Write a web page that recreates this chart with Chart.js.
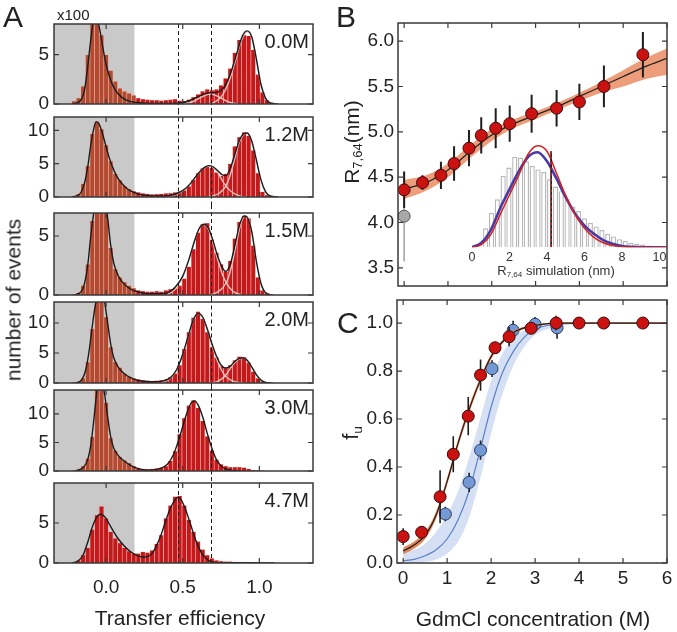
<!DOCTYPE html>
<html>
<head>
<meta charset="utf-8">
<script src="https://cdn.jsdelivr.net/npm/chart.js@4.4.1/dist/chart.umd.min.js"></script>
<style>
  body { margin: 0; width: 677px; height: 632px; overflow: hidden; position: relative; background: #fff;
         font-family: "Liberation Sans", Arial, sans-serif; color: #222; }
  canvas { position: absolute; z-index: 0; }
  .t { position: absolute; white-space: nowrap; line-height: 1; z-index: 2; }
  .ctr { transform: translate(-50%, -50%); }
  .rot { transform: translate(-50%, -50%) rotate(-90deg); }
  sub { font-size: 0.62em; vertical-align: -0.28em; line-height: 0; }
</style>
</head>
<body>
<div class="t" style="left:3px;top:2px;font-size:30px">A</div>
<div class="t" style="left:336px;top:2px;font-size:30px">B</div>
<div class="t" style="left:337px;top:308px;font-size:30px">C</div>
<div class="t" style="left:57px;top:7px;font-size:15px">x100</div>
<div class="t rot" style="left:13px;top:300px;font-size:21px">number of events</div>
<div class="t ctr" style="left:180px;top:617px;font-size:21px">Transfer efficiency</div>
<div class="t ctr" style="left:533px;top:618px;font-size:21px">GdmCl concentration (M)</div>
<div class="t rot" style="left:351px;top:142px;font-size:21px">R<sub>7,64</sub>(nm)</div>
<div class="t rot" style="left:351px;top:433px;font-size:22px">f<sub>u</sub></div>
<div class="t ctr" style="left:556px;top:270px;font-size:13px;color:#333">R<sub>7,64</sub> simulation (nm)</div>

<script>
// ---------- Panel A: transfer efficiency histograms (events x100) ----------
const concLabels = ['0.0M', '1.2M', '1.5M', '2.0M', '3.0M', '4.7M'];
const effTicks = [0, 0.5, 1.0];
const countTicks = [[0, 5], [0, 5, 10], [0, 5], [0, 5, 10], [0, 5, 10], [0, 5]];
const countMax = [8.1, 12.0, 6.95, 13.5, 14.2, 10.0];
const donorCut = 0.185;            // grey area = donor-only peak
const guideLines = [0.467, 0.685]; // dashed reference efficiencies

const binCenters = [-0.21, -0.18, -0.15, -0.12, -0.09, -0.06, -0.03, 0, 0.03, 0.06, 0.09, 0.12, 0.15, 0.18, 0.21,
  0.24, 0.27, 0.3, 0.33, 0.36, 0.39, 0.42, 0.45, 0.48, 0.51, 0.54, 0.57, 0.6, 0.63, 0.66, 0.69, 0.72, 0.75, 0.78,
  0.81, 0.84, 0.87, 0.9, 0.93, 0.96, 0.99, 1.02, 1.05, 1.08, 1.11];

const hist00 = [0.3, 0.6, 1.8, 5.0, 8.4, 8.4, 7.0, 5.0, 3.4, 2.3, 1.6, 1.3, 1.1, 0.9, 0.6, 0.5, 0.45, 0.4, 0.4, 0.35,
  0.4, 0.45, 0.5, 0.35, 0.3, 0.45, 0.7, 1.0, 1.3, 1.5, 1.4, 1.5, 1.9, 2.6, 3.6, 5.2, 6.5, 7.0, 6.9, 5.5, 3.0, 1.2, 0.4, 0.15, 0];
const hist12 = [0.1, 0.5, 2.0, 4.7, 9.5, 11.3, 10.2, 7.8, 5.4, 3.5, 2.5, 1.7, 1.2, 0.9, 0.7, 0.55, 0.5, 0.4, 0.45, 0.5,
  0.55, 0.6, 0.7, 0.8, 1.0, 1.6, 2.6, 3.6, 4.3, 4.6, 4.4, 3.7, 3.2, 3.5, 5.0, 7.6, 9.0, 9.7, 9.2, 7.0, 3.6, 0.8, 0.3, 0.1, 0];
const hist15 = [0.1, 0.2, 0.8, 2.6, 6.3, 7.5, 7.5, 7.2, 4.0, 2.2, 1.5, 1.1, 0.8, 0.6, 0.4, 0.35, 0.3, 0.3, 0.35, 0.3,
  0.4, 0.5, 0.6, 0.8, 1.4, 2.4, 3.9, 5.3, 6.0, 6.1, 4.7, 3.6, 2.6, 2.0, 2.9, 4.8, 6.2, 6.7, 6.5, 4.2, 1.5, 0.4, 0.2, 0.05, 0];
const hist20 = [0.1, 0.2, 0.8, 3.5, 9.0, 14, 14, 11.0, 6.0, 3.5, 2.6, 1.6, 1.1, 0.8, 0.6, 0.45, 0.4, 0.35, 0.4, 0.5,
  0.6, 1.0, 1.6, 3.0, 5.7, 8.5, 10.9, 11.9, 10.7, 8.5, 6.0, 4.3, 2.8, 2.5, 3.0, 3.8, 4.4, 4.3, 3.4, 1.9, 0.8, 0.3, 0.1, 0.05, 0];
const hist30 = [0.1, 0.3, 0.9, 2.2, 6.0, 15, 15, 12.0, 5.8, 3.6, 2.5, 1.9, 1.4, 0.9, 0.5, 0.4, 0.35, 0.4, 0.5, 0.6,
  0.9, 1.8, 3.5, 6.5, 9.3, 11.5, 12.4, 11.1, 8.8, 6.1, 3.6, 2.0, 1.2, 0.9, 0.7, 0.7, 0.7, 0.6, 0.4, 0.2, 0.1, 0.05, 0, 0, 0];
const hist47 = [0.1, 0.3, 1.0, 1.9, 4.2, 6.0, 7.1, 5.6, 3.9, 3.1, 2.5, 1.9, 1.5, 1.2, 1.2, 1.4, 1.3, 1.6, 2.4, 3.5,
  5.6, 7.2, 8.3, 8.4, 7.2, 5.4, 3.9, 2.7, 1.7, 1.0, 0.6, 0.35, 0.25, 0.2, 0.2, 0.15, 0.15, 0.1, 0.1, 0.05, 0.05, 0, 0, 0, 0];

// fitted curves, [efficiency, events]
const fit00 = [[-0.22, 0], [-0.17, 0.3], [-0.14, 1.5], [-0.12, 3.8], [-0.1, 6.5], [-0.08, 8.5], [-0.06, 8.6], [-0.04, 7.4],
  [-0.02, 5.6], [0, 4.0], [0.03, 2.4], [0.06, 1.4], [0.1, 0.7], [0.15, 0.3], [0.2, 0.15], [0.3, 0.05], [0.4, 0.05],
  [0.5, 0.15], [0.55, 0.4], [0.6, 0.75], [0.65, 1.05], [0.69, 1.15], [0.73, 1.2], [0.77, 1.7], [0.81, 3.0], [0.85, 5.0],
  [0.89, 6.9], [0.92, 7.4], [0.95, 6.8], [0.98, 4.6], [1.01, 2.0], [1.04, 0.6], [1.07, 0.1], [1.12, 0]];
const gaussA00 = [[0.5, 0], [0.56, 0.2], [0.61, 0.6], [0.65, 0.9], [0.68, 1.0], [0.71, 0.9], [0.75, 0.6], [0.8, 0.2], [0.86, 0]];
const gaussB00 = [[0.68, 0], [0.72, 0.3], [0.76, 0.9], [0.8, 2.2], [0.84, 4.2], [0.88, 6.3], [0.92, 7.3], [0.95, 6.8],
  [0.98, 4.6], [1.01, 2.0], [1.04, 0.6], [1.07, 0.1], [1.1, 0]];

const fit12 = [[-0.22, 0], [-0.17, 0.5], [-0.14, 2.2], [-0.12, 4.5], [-0.1, 7.8], [-0.08, 10.3], [-0.065, 11.3], [-0.05, 11.1],
  [-0.03, 10.0], [-0.01, 8.4], [0.01, 6.7], [0.04, 4.6], [0.07, 3.1], [0.1, 2.1], [0.14, 1.2], [0.18, 0.7], [0.22, 0.4],
  [0.28, 0.2], [0.35, 0.15], [0.42, 0.25], [0.47, 0.6], [0.52, 1.3], [0.56, 2.3], [0.6, 3.5], [0.64, 4.4], [0.67, 4.7],
  [0.7, 4.5], [0.73, 3.9], [0.76, 3.3], [0.78, 3.2], [0.81, 4.3], [0.84, 6.4], [0.87, 8.5], [0.9, 9.5], [0.92, 9.6],
  [0.95, 8.4], [0.98, 5.6], [1.01, 2.6], [1.04, 0.8], [1.07, 0.15], [1.12, 0]];
const gaussA12 = [[0.4, 0], [0.47, 0.5], [0.52, 1.3], [0.56, 2.3], [0.6, 3.5], [0.64, 4.4], [0.67, 4.6], [0.7, 4.4],
  [0.73, 3.6], [0.76, 2.4], [0.79, 1.4], [0.83, 0.6], [0.88, 0.1], [0.92, 0]];
const gaussB12 = [[0.66, 0], [0.7, 0.2], [0.74, 0.6], [0.78, 1.6], [0.81, 3.3], [0.84, 5.8], [0.87, 8.3], [0.9, 9.4],
  [0.92, 9.6], [0.95, 8.4], [0.98, 5.6], [1.01, 2.6], [1.04, 0.8], [1.07, 0.15], [1.12, 0]];

const fit15 = [[-0.2, 0], [-0.15, 0.6], [-0.12, 2.5], [-0.1, 5.0], [-0.08, 7.0], [-0.06, 8.2], [-0.035, 8.5], [-0.01, 8.0],
  [0.01, 6.5], [0.03, 4.2], [0.05, 2.7], [0.08, 1.6], [0.12, 0.9], [0.16, 0.5], [0.2, 0.3], [0.28, 0.1], [0.36, 0.1],
  [0.42, 0.3], [0.46, 0.8], [0.5, 1.6], [0.54, 3.0], [0.58, 4.7], [0.61, 5.7], [0.64, 6.0], [0.67, 5.6], [0.7, 4.5],
  [0.73, 3.2], [0.76, 2.3], [0.78, 2.0], [0.81, 2.6], [0.84, 4.2], [0.87, 5.9], [0.9, 6.7], [0.92, 6.6], [0.95, 5.4],
  [0.98, 2.9], [1.01, 1.0], [1.04, 0.2], [1.08, 0]];
const gaussA15 = [[0.4, 0], [0.46, 0.6], [0.5, 1.5], [0.54, 3.0], [0.58, 4.7], [0.61, 5.7], [0.64, 6.0], [0.67, 5.5],
  [0.7, 4.3], [0.73, 2.9], [0.76, 1.7], [0.79, 0.9], [0.83, 0.3], [0.88, 0]];
const gaussB15 = [[0.68, 0], [0.72, 0.2], [0.76, 0.6], [0.79, 1.2], [0.82, 2.5], [0.85, 4.4], [0.88, 6.1], [0.905, 6.7],
  [0.925, 6.6], [0.95, 5.4], [0.98, 2.9], [1.01, 1.0], [1.04, 0.2], [1.08, 0]];

const fit20 = [[-0.2, 0], [-0.16, 0.5], [-0.13, 2.5], [-0.11, 5.5], [-0.09, 9.5], [-0.07, 13.0], [-0.05, 15], [-0.03, 15.2],
  [-0.01, 13.5], [0.01, 10.0], [0.03, 6.5], [0.05, 4.2], [0.08, 2.6], [0.12, 1.5], [0.16, 0.9], [0.2, 0.5], [0.26, 0.25],
  [0.32, 0.2], [0.38, 0.4], [0.42, 0.9], [0.46, 2.2], [0.5, 4.8], [0.54, 8.2], [0.57, 10.6], [0.6, 11.6], [0.63, 11.0],
  [0.66, 9.0], [0.69, 6.6], [0.72, 4.5], [0.75, 3.0], [0.78, 2.5], [0.81, 2.8], [0.84, 3.6], [0.87, 4.1], [0.895, 4.2],
  [0.92, 3.8], [0.95, 2.7], [0.98, 1.4], [1.01, 0.5], [1.04, 0.1], [1.08, 0]];
const gaussA20 = [[0.36, 0], [0.42, 0.8], [0.46, 2.2], [0.5, 4.8], [0.54, 8.2], [0.57, 10.6], [0.6, 11.6], [0.63, 11.0],
  [0.66, 9.0], [0.69, 6.4], [0.72, 4.1], [0.75, 2.3], [0.78, 1.1], [0.82, 0.4], [0.86, 0.1], [0.9, 0]];
const gaussB20 = [[0.68, 0], [0.72, 0.2], [0.75, 0.6], [0.78, 1.3], [0.81, 2.4], [0.84, 3.4], [0.87, 4.0], [0.895, 4.2],
  [0.92, 3.8], [0.95, 2.7], [0.98, 1.4], [1.01, 0.5], [1.04, 0.1], [1.08, 0]];

const fit30 = [[-0.2, 0], [-0.15, 0.6], [-0.12, 2.0], [-0.1, 4.5], [-0.08, 9.0], [-0.06, 14], [-0.045, 16], [-0.03, 16],
  [-0.01, 13.5], [0.01, 9.5], [0.03, 6.0], [0.05, 4.0], [0.08, 2.7], [0.12, 1.7], [0.16, 1.0], [0.2, 0.5], [0.25, 0.2],
  [0.3, 0.15], [0.35, 0.4], [0.4, 1.2], [0.44, 2.9], [0.48, 6.0], [0.52, 9.6], [0.55, 11.7], [0.575, 12.3], [0.6, 11.6],
  [0.63, 9.5], [0.66, 6.6], [0.69, 4.0], [0.72, 2.0], [0.75, 0.9], [0.78, 0.35], [0.82, 0.1], [0.88, 0]];

const fit47 = [[-0.22, 0], [-0.18, 0.3], [-0.15, 1.0], [-0.12, 2.6], [-0.09, 4.5], [-0.06, 5.8], [-0.037, 6.1], [-0.01, 5.8],
  [0.02, 4.9], [0.05, 3.9], [0.08, 3.0], [0.12, 2.1], [0.16, 1.4], [0.2, 0.95], [0.24, 0.75], [0.27, 0.8], [0.3, 1.2],
  [0.33, 2.2], [0.36, 3.6], [0.39, 5.3], [0.42, 6.9], [0.45, 7.9], [0.467, 8.2], [0.49, 7.9], [0.52, 6.6], [0.55, 4.9],
  [0.58, 3.1], [0.61, 1.7], [0.64, 0.8], [0.67, 0.3], [0.7, 0.1], [0.75, 0.02], [0.9, 0.05], [1.0, 0.02], [1.1, 0]];

// ---------- Panel B: R7,64 vs GdmCl ----------
const gdmcl = [0, 0.42, 0.84, 1.14, 1.48, 1.76, 2.09, 2.41, 2.91, 3.48, 4.0, 4.56, 5.45];
const rMeas = [4.36, 4.44, 4.52, 4.65, 4.82, 4.96, 5.04, 5.09, 5.2, 5.26, 5.33, 5.5, 5.85];
const rErr = [0.2, 0.08, 0.15, 0.19, 0.2, 0.2, 0.22, 0.2, 0.21, 0.2, 0.2, 0.23, 0.25];
const nativeX = [0];
const nativeR = [4.07];
const nativeErr = [0.5];
const fitX = [0, 0.5, 1, 1.5, 2, 2.5, 3, 3.5, 4, 4.5, 5, 5.5, 6];
const rFit = [4.37, 4.44, 4.58, 4.78, 4.965, 5.09, 5.185, 5.28, 5.39, 5.5, 5.61, 5.72, 5.81];
const rFitHi = [4.47, 4.52, 4.65, 4.85, 5.03, 5.14, 5.225, 5.32, 5.43, 5.55, 5.68, 5.81, 5.92];
const rFitLo = [4.26, 4.35, 4.5, 4.71, 4.9, 5.04, 5.14, 5.24, 5.34, 5.43, 5.5, 5.58, 5.63];
const gdmTicks = [0, 1, 2, 3, 4, 5, 6];
const rTicks = [3.5, 4.0, 4.5, 5.0, 5.5, 6.0];

// inset: simulated R7,64 distribution
const simBins = [0.73, 1.04, 1.35, 1.66, 1.97, 2.28, 2.59, 2.9, 3.21, 3.52, 3.83, 4.14, 4.45, 4.76, 5.07, 5.38, 5.69,
  6.0, 6.31, 6.62, 6.93, 7.24, 7.55, 7.86, 8.17, 8.48, 8.79, 9.1, 9.41, 9.72];
const simCounts = [0.21, 0.38, 0.53, 0.79, 0.88, 1.0, 0.99, 0.95, 0.9, 0.86, 0.83, 0.75, 0.67, 0.62, 0.53, 0.45, 0.40,
  0.32, 0.27, 0.23, 0.19, 0.15, 0.12, 0.09, 0.07, 0.05, 0.04, 0.03, 0.02, 0.01];
const simGridX = [0, 0.5, 1, 1.5, 2, 2.5, 3, 3.5, 4, 4.5, 5, 5.5, 6, 6.5, 7, 7.5, 8, 8.5, 9, 9.5, 10, 10.4];
const simRed = [0, 0.03, 0.14, 0.36, 0.58, 0.8, 1.03, 1.12, 1.06, 0.82, 0.57, 0.36, 0.21, 0.11, 0.05, 0.02, 0.005, 0, 0, 0, 0, 0];
const simBlue = [0, 0.05, 0.19, 0.43, 0.64, 0.84, 1.0, 1.05, 0.95, 0.76, 0.55, 0.37, 0.24, 0.15, 0.08, 0.04, 0.015, 0.005, 0, 0, 0, 0];
const simMean = 4.22;
const simMeanTop = 1.06;
const simTicks = [0, 2, 4, 6, 8, 10];

// ---------- Panel C: fraction unfolded ----------
const fuRed = [0.11, 0.128, 0.276, 0.453, 0.612, 0.783, 0.897, 0.943, 0.978, 1.0, 1.0, 1.0, 1.0];
const fuRedErr = [0.035, 0.025, 0.11, 0.075, 0.08, 0.065, 0.02, 0.04, 0.02, 0.03, 0.01, 0.01, 0.01];
const gdmclBlue = [0.96, 1.5, 1.76, 2.02, 2.5, 3.0, 3.5];
const fuBlue = [0.204, 0.336, 0.47, 0.81, 0.97, 0.995, 0.98];
const fuBlueErr = [0.03, 0.04, 0.04, 0.035, 0.04, 0.03, 0.045];
const fuFitX = [0, 0.25, 0.5, 0.75, 1, 1.25, 1.5, 1.75, 2, 2.25, 2.5, 2.75, 3, 3.5, 4, 5, 6];
const fuRedFit = [0.05, 0.075, 0.115, 0.2, 0.34, 0.5, 0.64, 0.76, 0.86, 0.92, 0.96, 0.98, 0.99, 1, 1, 1, 1];
const fuRedHi = [0.065, 0.09, 0.13, 0.215, 0.355, 0.515, 0.655, 0.772, 0.87, 0.928, 0.966, 0.985, 0.994, 1.003, 1.003, 1.003, 1.003];
const fuRedLo = [0.035, 0.06, 0.1, 0.185, 0.325, 0.485, 0.625, 0.748, 0.85, 0.912, 0.954, 0.975, 0.986, 0.997, 0.997, 0.997, 0.997];
const fuBlueFit = [0.01, 0.015, 0.03, 0.055, 0.1, 0.18, 0.3, 0.47, 0.65, 0.79, 0.88, 0.94, 0.975, 0.995, 1, 1, 1];
const fuBlueHi = [0.045, 0.055, 0.08, 0.13, 0.2, 0.3, 0.44, 0.6, 0.76, 0.87, 0.935, 0.97, 0.99, 1, 1, 1, 1];
const fuBlueLo = [0, 0, 0.005, 0.015, 0.04, 0.09, 0.19, 0.35, 0.54, 0.7, 0.82, 0.9, 0.95, 0.985, 0.995, 1, 1];
const fuTicks = [0, 0.2, 0.4, 0.6, 0.8, 1.0];

// ---------- layout ----------
const panelTop = [24, 117, 213, 302, 390, 483];
const panelBottom = [104, 197, 295, 383, 471, 563];

Chart.defaults.font.family = '"Liberation Sans", Arial, sans-serif';
Chart.defaults.color = '#222';
Chart.defaults.animation = false;
Chart.defaults.plugins.legend.display = false;
Chart.defaults.plugins.tooltip.enabled = false;

const pts = pairs => pairs.map(p => ({ x: p[0], y: p[1] }));
const zip = (xs, ys) => xs.map((x, i) => ({ x: x, y: ys[i] }));

function makeCanvas(left, top, w, h) {
    const c = document.createElement('canvas');
    c.width = w;
    c.height = h;
    c.style.left = left + 'px';
    c.style.top = top + 'px';
    document.body.appendChild(c);
    return c;
}

// fixed axis size, fixed tick list, and no automatic label padding
function fixAxis(size, ticks) {
    return {
        afterBuildTicks: sc => { sc.ticks = ticks.map(v => ({ value: v })); },
        afterFit: sc => {
            if (sc.isHorizontal()) sc.height = size; else sc.width = size;
            sc.paddingTop = 0; sc.paddingBottom = 0; sc.paddingLeft = 0; sc.paddingRight = 0;
        }
    };
}

// box around the plot with inward ticks on all four sides
function frame(xTicks, yTicks, len) {
    return {
        id: 'frame',
        afterDraw(chart) {
            const { ctx, chartArea: a, scales: { x, y } } = chart;
            ctx.save();
            ctx.strokeStyle = '#3a3a3a';
            ctx.lineWidth = 1.5;
            ctx.strokeRect(a.left, a.top, a.right - a.left, a.bottom - a.top);
            ctx.lineWidth = 1.2;
            ctx.beginPath();
            xTicks.forEach(v => {
                const px = x.getPixelForValue(v);
                ctx.moveTo(px, a.bottom); ctx.lineTo(px, a.bottom - len);
                ctx.moveTo(px, a.top); ctx.lineTo(px, a.top + len);
            });
            yTicks.forEach(v => {
                const py = y.getPixelForValue(v);
                ctx.moveTo(a.left, py); ctx.lineTo(a.left + len, py);
                ctx.moveTo(a.right, py); ctx.lineTo(a.right - len, py);
            });
            ctx.stroke();
            ctx.restore();
        }
    };
}

// vertical error bars, drawn just before their marker dataset
const errorBars = {
    id: 'errorBars',
    beforeDatasetDraw(chart, args) {
        const ds = chart.data.datasets[args.index];
        if (!ds.errors) return;
        const { ctx, scales: { x, y } } = chart;
        ctx.save();
        ctx.strokeStyle = ds.errorColor;
        ctx.lineWidth = ds.errorWidth;
        ctx.beginPath();
        ds.data.forEach((p, i) => {
            const px = x.getPixelForValue(p.x);
            ctx.moveTo(px, y.getPixelForValue(p.y - ds.errors[i]));
            ctx.lineTo(px, y.getPixelForValue(p.y + ds.errors[i]));
        });
        ctx.stroke();
        ctx.restore();
    }
};

const greyBand = {
    id: 'greyBand',
    beforeDatasetsDraw(chart) {
        const { ctx, chartArea: a, scales: { x } } = chart;
        ctx.save();
        ctx.fillStyle = '#c9c9c9';
        ctx.fillRect(a.left, a.top, x.getPixelForValue(donorCut) - a.left, a.bottom - a.top);
        ctx.restore();
    }
};

function guides(up, down) {
    return {
        id: 'guides',
        afterDatasetsDraw(chart) {
            const { ctx, chartArea: a, scales: { x } } = chart;
            ctx.save();
            ctx.strokeStyle = '#1a1a1a';
            ctx.lineWidth = 1;
            ctx.setLineDash([4, 3]);
            guideLines.forEach(v => {
                const px = Math.round(x.getPixelForValue(v)) + 0.5;
                ctx.beginPath();
                ctx.moveTo(px, a.top - up);
                ctx.lineTo(px, a.bottom + down);
                ctx.stroke();
            });
            ctx.restore();
        }
    };
}

// ---------- Panel A ----------
const histSets = [
    { counts: hist00, fit: fit00, parts: [gaussA00, gaussB00] },
    { counts: hist12, fit: fit12, parts: [gaussA12, gaussB12] },
    { counts: hist15, fit: fit15, parts: [gaussA15, gaussB15] },
    { counts: hist20, fit: fit20, parts: [gaussA20, gaussB20] },
    { counts: hist30, fit: fit30, parts: [] },
    { counts: hist47, fit: fit47, parts: [] }
];

histSets.forEach((s, i) => {
    const top = panelTop[i], bottom = panelBottom[i];
    const last = i === histSets.length - 1;
    const padTop = 10, below = last ? 36 : 10;
    const canvas = makeCanvas(0, top - padTop, 316, bottom - top + padTop + below);
    const up = i === 0 ? 0 : (top - panelBottom[i - 1]) / 2;
    const down = last ? 0 : (panelTop[i + 1] - bottom) / 2;
    // bars under the grey band look brownish, except in the 4.7 M panel
    const colors = binCenters.map(c => (c < donorCut && !last) ? '#b3492f' : '#c4181a');

    const datasets = [{
        type: 'line', data: pts(s.fit), borderColor: '#1b1b1b', borderWidth: 1.4,
        pointRadius: 0, cubicInterpolationMode: 'monotone', order: 1
    }];
    s.parts.forEach(p => datasets.push({
        type: 'line', data: pts(p), borderColor: 'rgba(226,206,200,0.95)', borderWidth: 1.4,
        pointRadius: 0, cubicInterpolationMode: 'monotone', order: 2
    }));
    datasets.push({
        data: zip(binCenters, s.counts), backgroundColor: colors,
        borderColor: 'rgba(255,185,175,0.55)', borderWidth: 0.6,
        barPercentage: 1, categoryPercentage: 1, order: 3
    });

    new Chart(canvas, {
        type: 'bar',
        data: { datasets: datasets },
        options: {
            responsive: false,
            layout: { padding: { top: padTop, right: 3, bottom: last ? 0 : below, left: 0 } },
            scales: {
                x: Object.assign({
                    type: 'linear', min: -0.34, max: 1.35, offset: false, display: last,
                    grid: { display: false, drawTicks: false }, border: { display: false },
                    ticks: { padding: 13, font: { size: 19 }, callback: v => v.toFixed(1) }
                }, fixAxis(last ? below : 0, effTicks)),
                y: Object.assign({
                    min: 0, max: countMax[i],
                    grid: { display: false, drawTicks: false }, border: { display: false },
                    ticks: { padding: 5, font: { size: 19 } }
                }, fixAxis(54, countTicks[i]))
            }
        },
        plugins: [greyBand, guides(up, down), frame(effTicks, countTicks[i], 5)]
    });

    const lab = document.createElement('div');
    lab.className = 't';
    lab.textContent = concLabels[i];
    lab.style.cssText = 'left:209px;width:100px;text-align:right;font-size:20px;top:' + (top + 7) + 'px';
    document.body.appendChild(lab);
});

// ---------- Panel B ----------
new Chart(makeCanvas(340, 0, 337, 300), {
    type: 'line',
    data: {
        datasets: [
            { data: zip(gdmcl, rMeas), showLine: false, pointRadius: 6, pointBorderWidth: 1,
              pointBackgroundColor: '#cc1111', pointBorderColor: '#3b0d0d',
              errors: rErr, errorColor: '#1e1e1e', errorWidth: 2, order: 1 },
            { data: zip(nativeX, nativeR), showLine: false, pointRadius: 6, pointBorderWidth: 1,
              pointBackgroundColor: '#a8a8a8', pointBorderColor: '#555',
              errors: nativeErr, errorColor: '#a5a5a5', errorWidth: 1.6, order: 2 },
            { data: zip(fitX, rFit), borderColor: '#222', borderWidth: 1.3, pointRadius: 0,
              cubicInterpolationMode: 'monotone', order: 3 },
            { data: zip(fitX, rFitHi), borderWidth: 0, pointRadius: 0, fill: '+1',
              backgroundColor: '#ee9d7b', cubicInterpolationMode: 'monotone', order: 4 },
            { data: zip(fitX, rFitLo), borderWidth: 0, pointRadius: 0,
              cubicInterpolationMode: 'monotone', order: 5 }
        ]
    },
    options: {
        responsive: false,
        layout: { padding: { top: 23, right: 10, bottom: 14, left: 0 } },
        scales: {
            x: Object.assign({ type: 'linear', min: -0.14, max: 6.0, display: false }, fixAxis(0, gdmTicks)),
            y: Object.assign({
                min: 3.3, max: 6.2,
                grid: { display: false, drawTicks: false }, border: { display: false },
                ticks: { padding: 4, font: { size: 19 }, callback: v => v.toFixed(1) }
            }, fixAxis(58, rTicks))
        }
    },
    plugins: [errorBars, frame(gdmTicks, rTicks, 5)]
});

// inset histogram
new Chart(makeCanvas(460, 130, 217, 150), {
    type: 'bar',
    data: {
        datasets: [
            { type: 'line', data: [{ x: simMean, y: 0 }, { x: simMean, y: simMeanTop }], borderColor: '#d42020',
              borderDash: [3, 2.5], borderWidth: 1.4, pointRadius: 0, order: 0 },
            { type: 'line', data: [{ x: simMean, y: 0 }, { x: simMean, y: simMeanTop }], borderColor: '#111',
              borderWidth: 1.6, pointRadius: 0, order: 1 },
            { type: 'line', data: zip(simGridX, simRed), borderColor: '#d42020', borderWidth: 1.5,
              pointRadius: 0, cubicInterpolationMode: 'monotone', order: 2 },
            { type: 'line', data: zip(simGridX, simBlue), borderColor: '#4a3aa6', borderWidth: 2.6,
              pointRadius: 0, cubicInterpolationMode: 'monotone', order: 3 },
            { data: zip(simBins, simCounts), backgroundColor: '#fff', borderColor: '#b8b8b8', borderWidth: 1.4,
              barPercentage: 0.9, categoryPercentage: 1, order: 4 }
        ]
    },
    options: {
        responsive: false,
        layout: { padding: { top: 8.6, right: 10, bottom: 0, left: 12 } },
        scales: {
            x: Object.assign({
                type: 'linear', min: 0, max: 10.4, offset: false,
                grid: { display: false, drawTicks: false }, border: { display: false },
                ticks: { padding: 3, color: '#333', font: { size: 12.5 } }
            }, fixAxis(32.7, simTicks)),
            y: { display: false, min: 0, max: 1.2 }
        }
    }
});

// ---------- Panel C ----------
new Chart(makeCanvas(340, 290, 337, 342), {
    type: 'line',
    data: {
        datasets: [
            { data: zip(gdmcl, fuRed), showLine: false, pointRadius: 6, pointBorderWidth: 1,
              pointBackgroundColor: '#cc1111', pointBorderColor: '#3b0d0d',
              errors: fuRedErr, errorColor: '#1e1e1e', errorWidth: 1.6, order: 1 },
            { data: zip(fuFitX, fuRedFit), borderColor: '#2a1a1a', borderWidth: 1.2, pointRadius: 0,
              cubicInterpolationMode: 'monotone', order: 2 },
            { data: zip(fuFitX, fuRedHi), borderWidth: 0, pointRadius: 0, fill: '+1',
              backgroundColor: '#e08a5c', cubicInterpolationMode: 'monotone', order: 3 },
            { data: zip(fuFitX, fuRedLo), borderWidth: 0, pointRadius: 0,
              cubicInterpolationMode: 'monotone', order: 4 },
            { data: zip(gdmclBlue, fuBlue), showLine: false, pointRadius: 6, pointBorderWidth: 1,
              pointBackgroundColor: '#7399d6', pointBorderColor: '#2c3d5e',
              errors: fuBlueErr, errorColor: '#1e1e1e', errorWidth: 1.6, order: 5 },
            { data: zip(fuFitX, fuBlueFit), borderColor: '#5a80c8', borderWidth: 1.2, pointRadius: 0,
              cubicInterpolationMode: 'monotone', order: 6 },
            { data: zip(fuFitX, fuBlueHi), borderWidth: 0, pointRadius: 0, fill: '+1',
              backgroundColor: 'rgba(130,160,225,0.33)', cubicInterpolationMode: 'monotone', order: 7 },
            { data: zip(fuFitX, fuBlueLo), borderWidth: 0, pointRadius: 0,
              cubicInterpolationMode: 'monotone', order: 8 }
        ]
    },
    options: {
        responsive: false,
        layout: { padding: { top: 10, right: 10, bottom: 0, left: 0 } },
        scales: {
            x: Object.assign({
                type: 'linear', min: -0.14, max: 6.0,
                grid: { display: false, drawTicks: false }, border: { display: false },
                ticks: { padding: 4, font: { size: 19 } }
            }, fixAxis(69, gdmTicks)),
            y: Object.assign({
                min: 0, max: 1.096,
                grid: { display: false, drawTicks: false }, border: { display: false },
                ticks: { padding: 4, font: { size: 19 }, callback: v => v.toFixed(1) }
            }, fixAxis(57, fuTicks))
        }
    },
    plugins: [errorBars, frame(gdmTicks, fuTicks, 5)]
});
</script>
</body>
</html>
